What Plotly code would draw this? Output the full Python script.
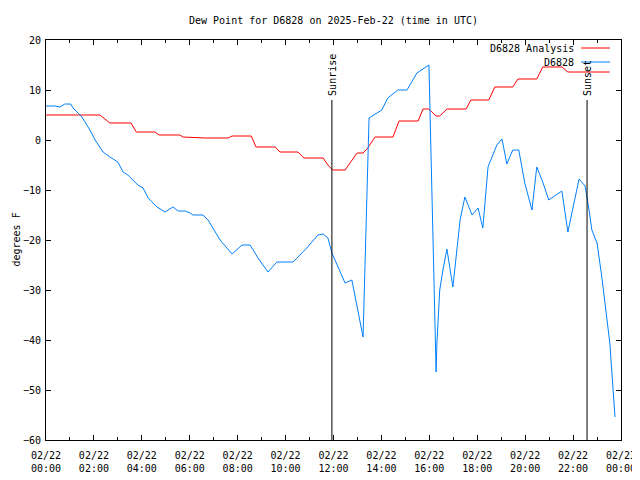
import plotly.graph_objects as go

DAY = "2025-02-22"

obs_times = ["00:00","00:23","00:35","00:47","01:02","01:08","01:30","01:50","02:03","02:23",
             "02:40","03:00","03:13","03:25","03:50","04:03","04:16","04:38","04:58","05:18",
             "05:31","05:48","06:01","06:08","06:33","06:46","07:16","07:46","08:11","08:31",
             "08:51","09:16","09:38","10:19","10:53","11:21","11:34","11:46","11:56","12:29",
             "12:46","12:59","13:14","13:29","14:01","14:16","14:41","15:04","15:29","15:59",
             "16:17","16:19","16:26","16:34","16:44","16:59","17:09","17:17","17:29","17:47",
             "18:02","18:14","18:27","18:37","18:49","19:02","19:14","19:29","19:44","19:59",
             "20:17","20:29","20:44","20:59","21:27","21:32","21:47","22:02","22:15","22:30",
             "22:35","22:40","22:47","23:00","23:12","23:25","23:32","23:45"]
obs_dew = [6.8,6.8,6.6,7.2,7.2,6.4,4.6,2.0,0.0,-2.4,
           -3.4,-4.4,-6.4,-7.0,-9.0,-9.6,-11.6,-13.4,-14.4,-13.4,
           -14.2,-14.2,-14.6,-15.0,-15.0,-16.0,-20.0,-22.8,-21.0,-21.0,
           -23.6,-26.4,-24.4,-24.4,-21.6,-19.0,-18.8,-19.6,-22.6,-28.6,
           -28.0,-33.4,-39.4,4.4,6.0,8.4,10.0,10.0,13.4,15.0,
           -46.4,-40.6,-30.0,-26.0,-21.8,-29.4,-22.0,-16.0,-11.4,-15.0,
           -13.6,-17.6,-5.4,-3.4,-1.0,0.2,-4.8,-2.0,-2.0,-8.6,
           -14.0,-5.4,-8.4,-12.0,-10.4,-10.2,-18.4,-12.6,-7.8,-9.2,
           -11.4,-14.0,-18.0,-20.6,-27.4,-35.4,-40.6,-55.4]

ana_times = ["00:00","02:15","02:40","03:33","03:46","04:33","04:43","05:35","05:43","06:38",
             "07:36","07:46","08:34","08:46","09:34","09:46","10:31","10:46","11:34","11:46",
             "11:58","12:29","12:59","13:14","13:24","13:44","14:29","14:44","15:32","15:44",
             "15:59","16:17","16:26","16:44","17:32","17:44","18:29","18:44","19:29","19:42",
             "20:29","20:44","21:32","21:47","23:32"]
ana_dew = [5.0,5.0,3.4,3.4,1.6,1.6,1.0,1.0,0.6,0.4,
           0.4,0.8,0.8,-1.4,-1.4,-2.4,-2.4,-3.6,-3.6,-5.0,
           -6.0,-6.0,-2.6,-2.6,-1.8,0.6,0.6,3.8,3.8,6.2,
           6.2,4.8,4.8,6.2,6.2,8.0,8.0,10.6,10.6,12.2,
           12.2,14.6,14.6,13.6,13.6]

sun_labels = ["Sunrise", "Sunset"]
sun_times = ["11:56", "22:35"]
sun_top = 8

series_names = ["D6828 Analysis", "D6828"]
series_colors = ["#ff0000", "#0080ff"]

def ts(t):
    return f"{DAY} {t}"

FONT = "DejaVu Sans Mono"
OFF = 8  # default page body margin
W, H = 640, 480
PX0, PX1, PY0, PY1 = 46, 621, 40, 440  # plot area in window pixels
L, T = PX0 - OFF, PY0 - OFF
PW, PH = PX1 - PX0, PY1 - PY0
R, B = W - L - PW, H - T - PH

def px(x):
    return (x - PX0) / PW

def py(y):
    return (PY1 - y) / PH

fig = go.Figure()
fig.add_trace(go.Scatter(x=[ts(t) for t in ana_times], y=ana_dew, mode="lines",
                         line=dict(color=series_colors[0], width=1), name=series_names[0],
                         showlegend=False))
fig.add_trace(go.Scatter(x=[ts(t) for t in obs_times], y=obs_dew, mode="lines",
                         line=dict(color=series_colors[1], width=1), name=series_names[1],
                         showlegend=False))

for lab, t in zip(sun_labels, sun_times):
    fig.add_shape(type="line", xref="x", yref="y", x0=ts(t), x1=ts(t), y0=sun_top, y1=-60,
                  line=dict(color="black", width=1))
    fig.add_annotation(x=ts(t), y=sun_top, xref="x", yref="y", text=lab, textangle=-90,
                       showarrow=False, yanchor="bottom", xanchor="center", yshift=2,
                       font=dict(family=FONT, size=10, color="black"))

# gnuplot-style legend (text right-aligned, sample line to the right)
leg_px = [48, 62]
for name, col, ly in zip(series_names, series_colors, leg_px):
    yy = py(ly)
    fig.add_annotation(x=px(576), y=yy, xref="paper", yref="paper", text=name,
                       showarrow=False, xanchor="right", yanchor="middle",
                       font=dict(family=FONT, size=10, color="black"))
    fig.add_shape(type="line", xref="paper", yref="paper", x0=px(581), x1=px(610),
                  y0=yy, y1=yy, line=dict(color=col, width=1))

# y axis title
fig.add_annotation(x=px(OFF), y=0.5, xref="paper", yref="paper", text="degrees F",
                   textangle=-90, showarrow=False, xanchor="left", yanchor="middle",
                   font=dict(family=FONT, size=10, color="black"))

fig.update_layout(
    width=W, height=H,
    margin=dict(l=L, r=R, t=T, b=B),
    paper_bgcolor="white", plot_bgcolor="white",
    font=dict(family=FONT, size=10, color="black"),
    title=dict(text="Dew Point for D6828 on 2025-Feb-22 (time in UTC)",
               x=(L + PW / 2) / W, xanchor="center", y=1 - (20 - OFF) / H, yanchor="middle",
               font=dict(family=FONT, size=10, color="black")),
)
fig.update_xaxes(
    range=[f"{DAY} 00:00", "2025-02-23 00:00"], type="date", automargin=False,
    dtick=7200000, tick0=f"{DAY} 00:00", tickformat="%m/%d<br>%H:%M",
    ticks="inside", ticklen=5, tickcolor="black", showline=True, linecolor="black",
    linewidth=1, mirror="ticks", showgrid=False, zeroline=False,
    minor=dict(dtick=3600000, ticks="inside", ticklen=3, tickcolor="black", showgrid=False),
    tickfont=dict(family=FONT, size=10, color="black"), ticklabelstandoff=6,
)
fig.update_yaxes(
    range=[-60, 20], dtick=10, ticks="inside", ticklen=5, tickcolor="black", automargin=False,
    showline=True, linecolor="black", linewidth=1, mirror="ticks", showgrid=False,
    zeroline=False, tickfont=dict(family=FONT, size=10, color="black"), ticklabelstandoff=2,
)

fig.write_html("out.html")
